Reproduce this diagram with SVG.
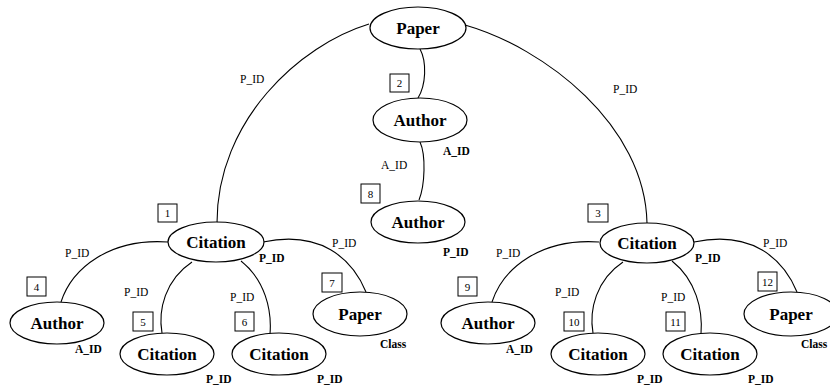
<svg xmlns="http://www.w3.org/2000/svg" width="830" height="387" viewBox="0 0 830 387">
<style>
.n{fill:#fff;stroke:#000;stroke-width:1.2}
.e{fill:none;stroke:#000;stroke-width:1.1}
.t{font-family:'Liberation Serif','Times New Roman',Times,serif;font-weight:bold;font-size:17px;text-anchor:middle}
.l{font-family:'Liberation Serif','Times New Roman',Times,serif;font-size:11.5px}
.b{font-family:'Liberation Serif','Times New Roman',Times,serif;font-size:11.5px;font-weight:bold}
.bx{fill:#fff;stroke:#000;stroke-width:1}
.num{font-family:'Liberation Serif','Times New Roman',Times,serif;font-size:11px;text-anchor:middle}
</style>
<rect width="830" height="387" fill="#fff"/>
<g id="connectors">
<path class="e" d="M369,24 C300,45 217,120 217,223"/>
<path class="e" d="M465,25 C545,48 645,125 647,223"/>
<path class="e" d="M420,49 C427,62 426,85 418,98"/>
<path class="e" d="M420,142 C426,155 425,185 419,200"/>
<path class="e" d="M168,242 C110,238 72,268 61,302"/>
<path class="e" d="M192,262 C165,280 158,310 162,333"/>
<path class="e" d="M241,261 C265,280 272,310 270,334"/>
<path class="e" d="M263,242 C320,230 352,258 366,292"/>
<path class="e" d="M599,242 C541,238 503,268 492,302"/>
<path class="e" d="M623,262 C596,280 589,310 593,333"/>
<path class="e" d="M672,261 C696,280 703,310 701,334"/>
<path class="e" d="M694,242 C751,230 783,258 797,292"/>
<text class="l" x="240" y="83">P_ID</text>
<text class="l" x="613" y="93">P_ID</text>
<text class="l" x="381" y="169">A_ID</text>
<text class="l" x="65" y="257">P_ID</text>
<text class="l" x="124" y="296">P_ID</text>
<text class="l" x="230" y="301">P_ID</text>
<text class="l" x="332" y="247">P_ID</text>
<text class="l" x="496" y="257">P_ID</text>
<text class="l" x="555" y="296">P_ID</text>
<text class="l" x="661" y="301">P_ID</text>
<text class="l" x="763" y="247">P_ID</text>
</g>
<g id="paper_root">
<ellipse class="n" cx="418" cy="28" rx="48" ry="21"/>
<text class="t" x="418" y="34">Paper</text>
</g>
<g id="author_2">
<ellipse class="n" cx="420" cy="120" rx="47" ry="22"/>
<text class="t" x="420" y="126">Author</text>
<rect class="bx" x="390" y="74" width="19" height="18"/>
<text class="num" x="399.5" y="87">2</text>
<text class="b" x="443" y="155">A_ID</text>
</g>
<g id="author_8">
<ellipse class="n" cx="418" cy="222" rx="47" ry="21"/>
<text class="t" x="418" y="228">Author</text>
<rect class="bx" x="361" y="184" width="19" height="19"/>
<text class="num" x="370.5" y="197.5">8</text>
<text class="b" x="443" y="256">P_ID</text>
</g>
<g id="citation_1">
<ellipse class="n" cx="216" cy="242" rx="48" ry="20"/>
<text class="t" x="216" y="248">Citation</text>
<rect class="bx" x="158" y="204" width="19" height="18"/>
<text class="num" x="167.5" y="217">1</text>
<text class="b" x="259" y="262">P_ID</text>
</g>
<g id="author_4">
<ellipse class="n" cx="57" cy="323" rx="47" ry="21"/>
<text class="t" x="57" y="329">Author</text>
<rect class="bx" x="27" y="277" width="19" height="19"/>
<text class="num" x="36.5" y="290.5">4</text>
<text class="b" x="75" y="353">A_ID</text>
</g>
<g id="citation_5">
<ellipse class="n" cx="167" cy="354" rx="47" ry="21"/>
<text class="t" x="167" y="360">Citation</text>
<rect class="bx" x="133" y="312" width="20" height="19"/>
<text class="num" x="143" y="325.5">5</text>
<text class="b" x="206" y="383">P_ID</text>
</g>
<g id="citation_6">
<ellipse class="n" cx="279" cy="354" rx="47" ry="21"/>
<text class="t" x="279" y="360">Citation</text>
<rect class="bx" x="235" y="312" width="19" height="19"/>
<text class="num" x="244.5" y="325.5">6</text>
<text class="b" x="317" y="383">P_ID</text>
</g>
<g id="paper_7">
<ellipse class="n" cx="360" cy="314" rx="47" ry="22"/>
<text class="t" x="360" y="320">Paper</text>
<rect class="bx" x="322" y="273" width="20" height="19"/>
<text class="num" x="332" y="286.5">7</text>
<text class="b" x="380" y="348">Class</text>
</g>
<g id="citation_3">
<ellipse class="n" cx="647" cy="243" rx="47" ry="20"/>
<text class="t" x="647" y="249">Citation</text>
<rect class="bx" x="588" y="204" width="20" height="18"/>
<text class="num" x="598" y="217">3</text>
<text class="b" x="695" y="262">P_ID</text>
</g>
<g id="author_9">
<ellipse class="n" cx="488" cy="323" rx="47" ry="21"/>
<text class="t" x="488" y="329">Author</text>
<rect class="bx" x="458" y="277" width="19" height="19"/>
<text class="num" x="467.5" y="290.5">9</text>
<text class="b" x="506" y="353">A_ID</text>
</g>
<g id="citation_10">
<ellipse class="n" cx="598" cy="354" rx="47" ry="21"/>
<text class="t" x="598" y="360">Citation</text>
<rect class="bx" x="564" y="312" width="20" height="19"/>
<text class="num" x="574" y="325.5">10</text>
<text class="b" x="637" y="383">P_ID</text>
</g>
<g id="citation_11">
<ellipse class="n" cx="710" cy="354" rx="47" ry="21"/>
<text class="t" x="710" y="360">Citation</text>
<rect class="bx" x="666" y="312" width="19" height="19"/>
<text class="num" x="675.5" y="325.5">11</text>
<text class="b" x="748" y="383">P_ID</text>
</g>
<g id="paper_12">
<ellipse class="n" cx="791" cy="314" rx="47" ry="22"/>
<text class="t" x="791" y="320">Paper</text>
<rect class="bx" x="758" y="272" width="19" height="19"/>
<text class="num" x="767.5" y="285.5">12</text>
<text class="b" x="801" y="348">Class</text>
</g>
</svg>
